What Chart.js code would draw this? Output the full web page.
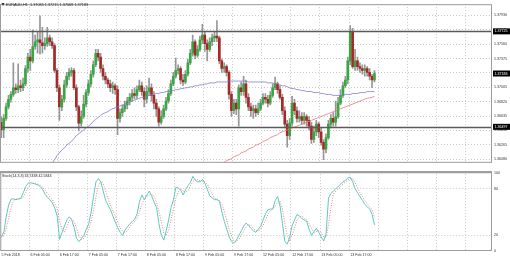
<!DOCTYPE html>
<html>
<head>
<meta charset="utf-8">
<script src="https://cdn.jsdelivr.net/npm/chart.js@4/dist/chart.umd.min.js"></script>
<style>
  body { margin: 0; background: #fff; }
  #wrap { position: relative; width: 510px; height: 259px; }
  #priceBox { position: absolute; left: 0; top: 0; width: 510px; height: 167px; }
  #stochBox { position: absolute; left: 0; top: 167px; width: 510px; height: 92px; }
</style>
</head>
<body>
<div id="wrap">
  <div id="priceBox"><canvas id="priceChart"></canvas></div>
  <div id="stochBox"><canvas id="stochChart"></canvas></div>
</div>
<script>
// EURAUD H1 candles, 5 Feb 2018 17:00 onwards
const dateLabels = ["5 Feb 2018", "6 Feb 05:00", "6 Feb 17:00", "7 Feb 05:00", "7 Feb 17:00",
  "8 Feb 05:00", "8 Feb 17:00", "9 Feb 05:00", "9 Feb 17:00", "12 Feb 05:00", "12 Feb 17:00",
  "13 Feb 05:00", "13 Feb 17:00"];

const opens = [1.36556,
  1.36457, 1.36605, 1.36753, 1.36852, 1.36914, 1.37000, 1.36975, 1.37025, 1.37000, 1.37049,
  1.37247, 1.37394, 1.37345, 1.37530, 1.37592, 1.37616, 1.37579, 1.37542, 1.37567, 1.37641,
  1.37592, 1.37542, 1.37222, 1.37000, 1.36753, 1.36852, 1.37037, 1.37148, 1.37197, 1.37222,
  1.37000, 1.36753, 1.36544, 1.36630, 1.36790, 1.36938, 1.37049, 1.37173, 1.37296, 1.37444,
  1.37394, 1.37247, 1.37148, 1.37099, 1.37049, 1.37000, 1.37025, 1.36975, 1.36605, 1.36679,
  1.36729, 1.36778, 1.36827, 1.36877, 1.36926, 1.36901, 1.36975, 1.37025, 1.36951, 1.36852,
  1.36951, 1.37000, 1.36901, 1.36803, 1.36729, 1.36556, 1.36630, 1.36729, 1.36827, 1.36926,
  1.37049, 1.37148, 1.37222, 1.37247, 1.37099, 1.37074, 1.37173, 1.37320, 1.37444, 1.37592,
  1.37419, 1.37493, 1.37616, 1.37678, 1.37567, 1.37493, 1.37592, 1.37641, 1.37666, 1.37641,
  1.37345, 1.37247, 1.37271, 1.37197, 1.36914, 1.36704, 1.36803, 1.36729, 1.37000, 1.36951,
  1.37049, 1.36877, 1.36753, 1.36704, 1.36729, 1.36679, 1.36729, 1.36803, 1.36877, 1.36852,
  1.36803, 1.36901, 1.37000, 1.37049, 1.36975, 1.36877, 1.36704, 1.36531, 1.36384, 1.36544,
  1.36803, 1.36704, 1.36605, 1.36630, 1.36581, 1.36630, 1.36581, 1.36507, 1.36334, 1.36433,
  1.36531, 1.36433, 1.36297, 1.36211, 1.36359, 1.36531, 1.36605, 1.36556, 1.36630, 1.36803,
  1.36901, 1.37025, 1.37099, 1.37345, 1.37715, 1.37271, 1.37345, 1.37271, 1.37247, 1.37222,
  1.37247, 1.37197, 1.37148, 1.37099];

const highs = [1.36630,
  1.36655, 1.36803, 1.36901, 1.36951, 1.37320, 1.37049, 1.37308, 1.37099, 1.37123, 1.37284,
  1.37444, 1.37493, 1.37740, 1.37678, 1.37715, 1.37925, 1.37777, 1.37641, 1.37777, 1.37678,
  1.37641, 1.37567, 1.37247, 1.37037, 1.36901, 1.37099, 1.37197, 1.37247, 1.37259, 1.37247,
  1.37037, 1.36778, 1.36704, 1.36901, 1.36975, 1.37099, 1.37222, 1.37345, 1.37493, 1.37493,
  1.37444, 1.37296, 1.37197, 1.37123, 1.37099, 1.37074, 1.37049, 1.37025, 1.36729, 1.36778,
  1.36827, 1.36877, 1.36926, 1.36975, 1.37000, 1.37025, 1.37099, 1.37074, 1.37000, 1.37025,
  1.37123, 1.37049, 1.36951, 1.36852, 1.36753, 1.36704, 1.36778, 1.36877, 1.36975, 1.37099,
  1.37197, 1.37382, 1.37296, 1.37271, 1.37173, 1.37222, 1.37370, 1.37493, 1.37678, 1.37616,
  1.37542, 1.37666, 1.37814, 1.37715, 1.37616, 1.37641, 1.37690, 1.37715, 1.37863, 1.37666,
  1.37370, 1.37320, 1.37296, 1.37222, 1.36951, 1.36852, 1.36852, 1.37037, 1.37074, 1.37148,
  1.37099, 1.36926, 1.36803, 1.36778, 1.36778, 1.36803, 1.36852, 1.36926, 1.36926, 1.36901,
  1.36951, 1.37049, 1.37136, 1.37074, 1.37025, 1.36914, 1.36753, 1.36581, 1.36605, 1.36889,
  1.36852, 1.36753, 1.36704, 1.36679, 1.36679, 1.36655, 1.36630, 1.36556, 1.36507, 1.36581,
  1.36556, 1.36482, 1.36334, 1.36408, 1.36581, 1.36655, 1.36679, 1.36827, 1.36877, 1.36975,
  1.37074, 1.37148, 1.37394, 1.37801, 1.37764, 1.37493, 1.37394, 1.37320, 1.37296, 1.37296,
  1.37271, 1.37247, 1.37173, 1.37222];

const lows = [1.36359,
  1.36359, 1.36581, 1.36729, 1.36815, 1.36889, 1.36926, 1.36938, 1.36951, 1.36963, 1.37025,
  1.37197, 1.37222, 1.37320, 1.37493, 1.37444, 1.37431, 1.37444, 1.37493, 1.37530, 1.37542,
  1.37505, 1.37197, 1.36951, 1.36581, 1.36704, 1.36815, 1.37000, 1.37099, 1.37148, 1.36975,
  1.36704, 1.36445, 1.36507, 1.36605, 1.36753, 1.36901, 1.37012, 1.37136, 1.37271, 1.37345,
  1.37197, 1.37099, 1.37049, 1.37000, 1.36951, 1.36926, 1.36914, 1.36396, 1.36556, 1.36630,
  1.36692, 1.36729, 1.36778, 1.36827, 1.36852, 1.36864, 1.36951, 1.36901, 1.36753, 1.36803,
  1.36901, 1.36827, 1.36729, 1.36630, 1.36507, 1.36531, 1.36605, 1.36704, 1.36803, 1.36901,
  1.37025, 1.37123, 1.37173, 1.37049, 1.37025, 1.37049, 1.37148, 1.37296, 1.37407, 1.37370,
  1.37394, 1.37468, 1.37567, 1.37468, 1.37345, 1.37468, 1.37542, 1.37592, 1.37592, 1.37308,
  1.37197, 1.37197, 1.37148, 1.36852, 1.36630, 1.36667, 1.36655, 1.36507, 1.36901, 1.36901,
  1.36803, 1.36704, 1.36630, 1.36605, 1.36630, 1.36655, 1.36704, 1.36778, 1.36803, 1.36753,
  1.36778, 1.36877, 1.36975, 1.36926, 1.36852, 1.36655, 1.36482, 1.36236, 1.36334, 1.36507,
  1.36655, 1.36556, 1.36556, 1.36531, 1.36531, 1.36507, 1.36457, 1.36285, 1.36297, 1.36384,
  1.36359, 1.36260, 1.36075, 1.36162, 1.36334, 1.36482, 1.36507, 1.36507, 1.36605, 1.36778,
  1.36877, 1.37000, 1.37049, 1.37296, 1.37247, 1.37222, 1.37222, 1.37197, 1.37173, 1.37148,
  1.37148, 1.37099, 1.37000, 1.37074];

const closes = [1.36457,
  1.36605, 1.36753, 1.36852, 1.36914, 1.37000, 1.36975, 1.37025, 1.37000, 1.37049, 1.37247,
  1.37394, 1.37345, 1.37530, 1.37592, 1.37616, 1.37579, 1.37542, 1.37567, 1.37641, 1.37592,
  1.37542, 1.37222, 1.37000, 1.36753, 1.36852, 1.37037, 1.37148, 1.37197, 1.37222, 1.37000,
  1.36753, 1.36544, 1.36630, 1.36790, 1.36938, 1.37049, 1.37173, 1.37296, 1.37444, 1.37394,
  1.37247, 1.37148, 1.37099, 1.37049, 1.37000, 1.37025, 1.36975, 1.36605, 1.36679, 1.36729,
  1.36778, 1.36827, 1.36877, 1.36926, 1.36901, 1.36975, 1.37025, 1.36951, 1.36852, 1.36951,
  1.37000, 1.36901, 1.36803, 1.36729, 1.36556, 1.36630, 1.36729, 1.36827, 1.36926, 1.37049,
  1.37148, 1.37222, 1.37247, 1.37099, 1.37074, 1.37173, 1.37320, 1.37444, 1.37592, 1.37419,
  1.37493, 1.37616, 1.37678, 1.37567, 1.37493, 1.37592, 1.37641, 1.37666, 1.37641, 1.37345,
  1.37247, 1.37271, 1.37197, 1.36914, 1.36704, 1.36803, 1.36729, 1.37000, 1.36951, 1.37049,
  1.36877, 1.36753, 1.36704, 1.36729, 1.36679, 1.36729, 1.36803, 1.36877, 1.36852, 1.36803,
  1.36901, 1.37000, 1.37049, 1.36975, 1.36877, 1.36704, 1.36531, 1.36384, 1.36544, 1.36803,
  1.36704, 1.36605, 1.36630, 1.36581, 1.36630, 1.36581, 1.36507, 1.36334, 1.36433, 1.36531,
  1.36433, 1.36297, 1.36211, 1.36359, 1.36531, 1.36605, 1.36556, 1.36630, 1.36803, 1.36901,
  1.37025, 1.37099, 1.37345, 1.37715, 1.37271, 1.37345, 1.37271, 1.37247, 1.37222, 1.37247,
  1.37197, 1.37148, 1.37099, 1.37183];

// moving averages, values; they start part way in
const maFastStart = 21;
const maFast = [
  1.36026, 1.36075, 1.36125, 1.36162, 1.36199, 1.36223, 1.36260, 1.36285, 1.36309, 1.36346,
  1.36384, 1.36408, 1.36433, 1.36457, 1.36482, 1.36507, 1.36531, 1.36568, 1.36593, 1.36618,
  1.36642, 1.36667, 1.36679, 1.36692, 1.36716, 1.36729, 1.36741, 1.36753, 1.36766, 1.36778,
  1.36790, 1.36803, 1.36815, 1.36827, 1.36840, 1.36852, 1.36864, 1.36877, 1.36877, 1.36889,
  1.36901, 1.36914, 1.36914, 1.36926, 1.36926, 1.36938, 1.36938, 1.36951, 1.36951, 1.36963,
  1.36963, 1.36975, 1.36975, 1.36988, 1.36988, 1.37000, 1.37000, 1.37012, 1.37012, 1.37025,
  1.37025, 1.37037, 1.37037, 1.37049, 1.37049, 1.37062, 1.37062, 1.37062, 1.37074, 1.37074,
  1.37074, 1.37074, 1.37074, 1.37086, 1.37086, 1.37086, 1.37086, 1.37086, 1.37086, 1.37086,
  1.37086, 1.37074, 1.37074, 1.37074, 1.37074, 1.37074, 1.37074, 1.37074, 1.37074, 1.37062,
  1.37062, 1.37062, 1.37049, 1.37049, 1.37037, 1.37025, 1.37025, 1.37012, 1.37000, 1.36988,
  1.36988, 1.36975, 1.36975, 1.36963, 1.36963, 1.36951, 1.36951, 1.36951, 1.36938, 1.36938,
  1.36938, 1.36926, 1.36926, 1.36914, 1.36914, 1.36914, 1.36901, 1.36901, 1.36901, 1.36901,
  1.36901, 1.36914, 1.36914, 1.36914, 1.36926, 1.36926, 1.36926, 1.36938, 1.36938, 1.36938,
  1.36951, 1.36951, 1.36951, 1.36951];

const maSlowStart = 91;
const maSlow = [
  1.36026, 1.36038, 1.36063, 1.36075, 1.36088, 1.36112, 1.36125, 1.36137, 1.36162, 1.36174,
  1.36186, 1.36211, 1.36223, 1.36236, 1.36260, 1.36272, 1.36285, 1.36309, 1.36322, 1.36334,
  1.36359, 1.36371, 1.36384, 1.36396, 1.36420, 1.36433, 1.36445, 1.36457, 1.36470, 1.36482,
  1.36494, 1.36507, 1.36519, 1.36531, 1.36544, 1.36556, 1.36568, 1.36581, 1.36593, 1.36605,
  1.36618, 1.36630, 1.36642, 1.36655, 1.36667, 1.36679, 1.36692, 1.36704, 1.36716, 1.36729,
  1.36741, 1.36753, 1.36766, 1.36778, 1.36790, 1.36803, 1.36815, 1.36827, 1.36840, 1.36852,
  1.36864, 1.36870, 1.36877, 1.36889];

const stochMain = [18,
  25, 45, 60, 67, 67, 66, 67, 68, 75, 83,
  87, 88, 87, 86, 85, 83, 79, 73, 69, 66,
  62, 55, 45, 15, 24, 32, 40, 44, 40, 30,
  16, 12, 16, 20, 28, 35, 50, 70, 89, 93,
  89, 77, 65, 59, 53, 45, 37, 30, 24, 20,
  27, 31, 35, 38, 41, 48, 64, 72, 66, 72,
  77, 71, 63, 56, 35, 20, 14, 26, 40, 56,
  66, 82, 81, 78, 72, 79, 84, 88, 96, 91,
  89, 89, 92, 87, 79, 71, 68, 66, 66, 64,
  50, 38, 28, 18, 12, 10, 14, 20, 26, 32,
  36, 33, 29, 26, 24, 28, 32, 40, 48, 53,
  54, 54, 65, 70, 58, 35, 12, 9, 18, 33,
  40, 47, 45, 42, 40, 38, 28, 20, 25, 29,
  24, 18, 13, 22, 68, 74, 77, 80, 83, 86,
  89, 91, 94, 95, 89, 80, 75, 70, 65, 60,
  57, 54, 47, 33.7438];

const stochSignal = [17,
  20, 30, 43, 57, 65, 67, 67, 67, 70, 75,
  82, 86, 87, 87, 86, 85, 82, 78, 74, 69,
  66, 61, 54, 38, 28, 24, 32, 39, 41, 38,
  29, 19, 15, 16, 21, 28, 38, 52, 70, 84,
  90, 86, 77, 67, 59, 52, 45, 37, 30, 25,
  24, 26, 31, 35, 38, 42, 51, 61, 67, 70,
  72, 73, 70, 63, 51, 37, 23, 20, 27, 41,
  54, 68, 76, 80, 77, 76, 78, 84, 89, 92,
  92, 90, 90, 89, 86, 79, 73, 68, 67, 65,
  60, 51, 39, 28, 19, 13, 12, 15, 20, 26,
  31, 34, 33, 29, 26, 26, 28, 33, 40, 47,
  52, 54, 58, 63, 64, 54, 35, 19, 13, 20,
  30, 40, 44, 45, 42, 40, 35, 29, 24, 25,
  26, 24, 18, 18, 34, 55, 73, 77, 80, 83,
  86, 89, 91, 93, 93, 88, 81, 75, 70, 65,
  61, 57, 53, 42.5843];

const priceTicks = [1.36080, 1.36265, 1.36450, 1.36635, 1.36820, 1.37005, 1.37190, 1.37375, 1.37560, 1.37745, 1.37930];
const stochTicks = [0, 20, 80, 100];
const levelLines = [1.37725, 1.36497];

const slotCount = 203; // visible bars incl. empty shift area on the right
const labelStep = 12;

const labels = [];
for (let i = 0; i < slotCount; i++) {
  labels.push(i % labelStep === 0 && i / labelStep < dateLabels.length ? dateLabels[i / labelStep] : "");
}

const fontFamily = "'Liberation Sans', Arial, sans-serif";
const gridColor = "#c8c8c8";
const frameColor = "#9c9c9c";

function padSeries(start, values) {
  return new Array(start).fill(null).concat(values);
}

const bodyColors = closes.map((c, i) => (c >= opens[i] ? "#36a840" : "#a82828"));

const framePlugin = {
  id: "frame",
  afterDraw(chart) {
    const { ctx, chartArea: a } = chart;
    ctx.save();
    ctx.strokeStyle = frameColor;
    ctx.lineWidth = 1;
    ctx.strokeRect(a.left + 0.5, a.top + 0.5, a.width - 1, a.height - 1);
    ctx.restore();
  }
};

const priceMarks = {
  id: "priceMarks",
  afterDatasetsDraw(chart) {
    const { ctx, chartArea: a } = chart;
    const y = chart.scales.y;
    ctx.save();
    ctx.strokeStyle = "#5a5a5a";
    ctx.lineWidth = 1.5;
    levelLines.forEach(v => {
      const py = Math.round(y.getPixelForValue(v)) + 0.5;
      ctx.beginPath();
      ctx.moveTo(a.left, py);
      ctx.lineTo(a.right, py);
      ctx.stroke();
    });
    ctx.restore();
  },
  afterDraw(chart) {
    const { ctx, chartArea: a } = chart;
    const y = chart.scales.y;
    ctx.save();
    ctx.font = "3.6px " + fontFamily;
    ctx.textBaseline = "middle";
    const marks = levelLines.concat([closes[closes.length - 1]]);
    marks.forEach(v => {
      const py = y.getPixelForValue(v);
      ctx.fillStyle = "#000";
      ctx.fillRect(a.right + 1, py - 3, 17, 6);
      ctx.fillStyle = "#fff";
      ctx.fillText(v.toFixed(5), a.right + 2.5, py);
    });
    // header
    ctx.fillStyle = "#333";
    ctx.beginPath();
    ctx.moveTo(1.5, 3);
    ctx.lineTo(4.5, 3);
    ctx.lineTo(3, 6);
    ctx.closePath();
    ctx.fill();
    ctx.fillStyle = "#222";
    ctx.font = "3.8px " + fontFamily;
    ctx.fillText("EURAUD,H1  1.37085 1.37215 1.37068 1.37183", 6, 4.8);
    ctx.restore();
  }
};

const stochTitle = {
  id: "stochTitle",
  afterDraw(chart) {
    const { ctx, chartArea: a } = chart;
    ctx.save();
    ctx.strokeStyle = frameColor;
    ctx.lineWidth = 2;
    ctx.beginPath();
    ctx.moveTo(0, a.top + 1);
    ctx.lineTo(a.right, a.top + 1);
    ctx.stroke();
    ctx.fillStyle = "#222";
    ctx.font = "3.6px " + fontFamily;
    ctx.textBaseline = "middle";
    ctx.fillText("Stoch(14,3,3) " + stochMain[stochMain.length - 1].toFixed(4) + " " +
      stochSignal[stochSignal.length - 1].toFixed(4), 2, a.top + 4.5);
    ctx.restore();
  }
};

function vGrid(ctx) {
  return ctx.index % labelStep === 0 ? gridColor : "transparent";
}

new Chart(document.getElementById("priceChart"), {
  type: "bar",
  data: {
    labels: labels,
    datasets: [
      {
        type: "line", data: padSeries(maFastStart, maFast), borderColor: "#7c7cd0",
        borderWidth: 0.8, pointRadius: 0, fill: false, order: 0
      },
      {
        type: "line", data: padSeries(maSlowStart, maSlow), borderColor: "#e27878",
        borderWidth: 0.8, pointRadius: 0, fill: false, order: 0
      },
      {
        data: opens.map((o, i) => [o, closes[i]]), backgroundColor: bodyColors,
        barThickness: 2, minBarLength: 1, grouped: false, order: 1
      },
      {
        data: lows.map((l, i) => [l, highs[i]]), backgroundColor: "#969696",
        barThickness: 1, grouped: false, order: 2
      }
    ]
  },
  options: {
    responsive: true,
    maintainAspectRatio: false,
    animation: false,
    events: [],
    layout: { padding: { top: 1, bottom: 1, left: 0, right: 0 } },
    plugins: { legend: { display: false }, tooltip: { enabled: false } },
    scales: {
      x: {
        ticks: { display: false, autoSkip: false },
        grid: { color: vGrid, drawTicks: false, lineWidth: 1 },
        border: { display: false, dash: [1, 2] },
        afterFit: s => { s.height = 0; }
      },
      y: {
        position: "right",
        min: 1.36034,
        max: 1.38075,
        afterBuildTicks: s => { s.ticks = priceTicks.map(v => ({ value: v })); },
        afterFit: s => { s.width = 18; },
        ticks: {
          font: { family: fontFamily, size: 3.6 }, color: "#333", padding: 2,
          callback: v => v.toFixed(5)
        },
        grid: { color: gridColor, drawTicks: false },
        border: { display: false, dash: [1, 2] }
      }
    }
  },
  plugins: [framePlugin, priceMarks]
});

new Chart(document.getElementById("stochChart"), {
  type: "line",
  data: {
    labels: labels,
    datasets: [
      {
        data: stochMain, borderColor: "#5ec8c2", borderWidth: 1, pointRadius: 0, fill: false
      },
      {
        data: stochSignal, borderColor: "#e88080", borderWidth: 1, borderDash: [1, 1.5],
        pointRadius: 0, fill: false
      }
    ]
  },
  options: {
    responsive: true,
    maintainAspectRatio: false,
    animation: false,
    events: [],
    layout: { padding: 0 },
    plugins: { legend: { display: false }, tooltip: { enabled: false } },
    scales: {
      x: {
        offset: true,
        grid: { color: vGrid, drawTicks: false, offset: true },
        border: { display: false, dash: [1, 2] },
        ticks: {
          autoSkip: false, maxRotation: 0, align: "start", padding: 1.5,
          font: { family: fontFamily, size: 3.6 }, color: "#333"
        },
        afterFit: s => { s.height = 8; }
      },
      y: {
        position: "right",
        min: 0,
        max: 102.7,
        afterBuildTicks: s => { s.ticks = stochTicks.map(v => ({ value: v })); },
        afterFit: s => { s.width = 18; },
        ticks: { font: { family: fontFamily, size: 3.6 }, color: "#333", padding: 2 },
        grid: {
          color: c => (c.tick && (c.tick.value === 20 || c.tick.value === 80) ? gridColor : "transparent"),
          drawTicks: false
        },
        border: { display: false, dash: [1, 2] }
      }
    }
  },
  plugins: [framePlugin, stochTitle]
});
</script>
</body>
</html>
